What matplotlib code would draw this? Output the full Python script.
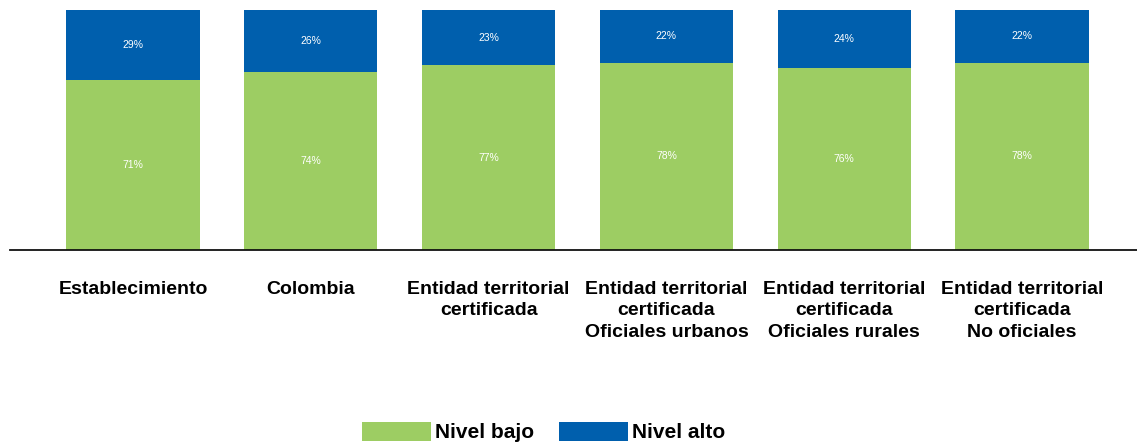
import matplotlib
matplotlib.use("Agg")
import matplotlib.pyplot as plt
import numpy as np

categorias = ["Establecimiento", "Colombia", "Entidad territorial\ncertificada",
              "Entidad territorial\ncertificada\nOficiales urbanos",
              "Entidad territorial\ncertificada\nOficiales rurales",
              "Entidad territorial\ncertificada\nNo oficiales"]
nivel_bajo = [71, 74, 77, 78, 76, 78]
nivel_alto = [29, 26, 23, 22, 24, 22]

verde = "#9dcd63"
azul = "#005fad"

plt.rcParams['font.family'] = ['Liberation Sans', 'DejaVu Sans']

fig = plt.figure(figsize=(11.37, 4.44), dpi=100)
ax = fig.add_axes([0.0088, 0.437, 0.9912, 0.5405])

x = np.arange(len(categorias))
b1 = ax.bar(x, nivel_bajo, 0.75, color=verde, label="Nivel bajo")
b2 = ax.bar(x, nivel_alto, 0.75, bottom=nivel_bajo, color=azul, label="Nivel alto")

for i in range(len(x)):
    ax.text(x[i], nivel_bajo[i] / 2, f"{nivel_bajo[i]}%", ha="center", va="center",
            color="white", fontsize=7.5)
    ax.text(x[i], nivel_bajo[i] + nivel_alto[i] / 2, f"{nivel_alto[i]}%", ha="center",
            va="center", color="white", fontsize=7.5)

ax.set_xlim(-0.692, 5.647)
ax.set_ylim(0, 100)
for s in ["top", "right", "left"]:
    ax.spines[s].set_visible(False)
ax.spines["bottom"].set_linewidth(1.3)
ax.spines["bottom"].set_color("#111111")
ax.set_yticks([])
ax.set_xticks(x)
ax.set_xticklabels(categorias, fontsize=14, fontweight="bold", linespacing=1.35, va="top")
ax.tick_params(axis="x", length=0, pad=22)

fig.legend(handles=[b1, b2], labels=["Nivel bajo", "Nivel alto"], loc="center",
           bbox_to_anchor=(0.478, 0.027), ncol=2, frameon=False,
           prop={"weight": "bold", "size": 15}, handlelength=3.3, handleheight=1.05,
           handletextpad=0.2, columnspacing=1.2, borderpad=0)

fig.savefig("out.png", dpi=100)
